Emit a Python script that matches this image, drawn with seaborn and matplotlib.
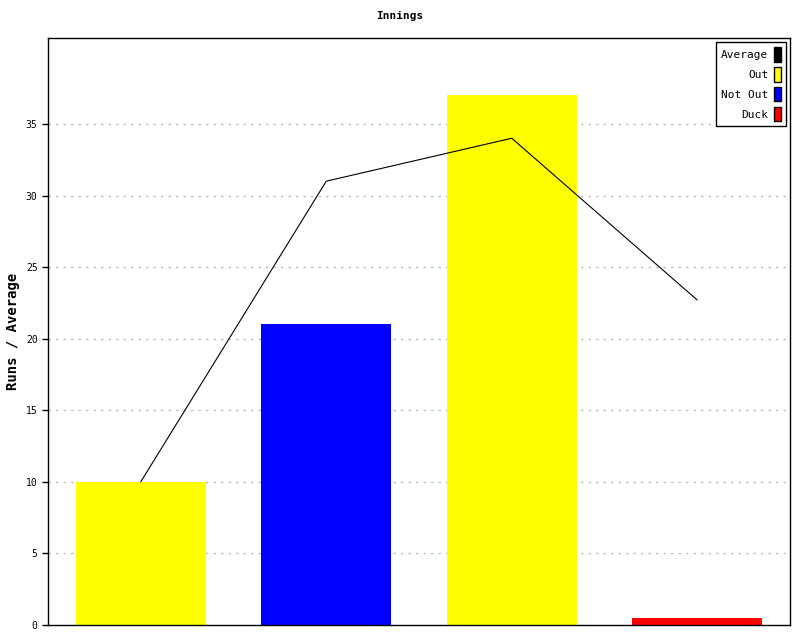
import matplotlib
matplotlib.use("Agg")
import matplotlib.pyplot as plt
from matplotlib.patches import Patch
import seaborn as sns
import pandas as pd

innings = ["1", "2", "3", "4"]
runs = [10, 21, 37, 0.5]
status = ["Out", "Not Out", "Out", "Duck"]
average = [10, 31, 34, 22.7]

colors = {"Out": "#ffff00", "Not Out": "#0000ff", "Duck": "#ff0000"}

df = pd.DataFrame({"inning": innings, "runs": runs, "status": status, "average": average})

sns.set_style("white")
plt.rcParams["font.family"] = ["DejaVu Sans Mono"]
plt.rcParams["text.color"] = "black"
plt.rcParams["axes.labelcolor"] = "black"
plt.rcParams["ytick.color"] = "black"

fig = plt.figure(figsize=(8, 6.4), dpi=100)
ax = fig.add_axes([0.06, 0.0234, 0.9275, 0.9172])

sns.barplot(data=df, x="inning", y="runs", hue="status", palette=colors,
            dodge=False, width=0.7, saturation=1, legend=False,
            linewidth=0, ax=ax)
sns.lineplot(data=df, x="inning", y="average", color="black", linewidth=0.8,
             sort=False, ax=ax)

ax.set_ylim(0, 41)
ax.set_xlim(-0.5, 3.5)
ax.set_yticks(range(0, 40, 5))
ax.set_xticks([])
ax.set_xlabel("")
ax.set_ylabel("Runs / Average", fontsize=10, fontweight="bold")
ax.tick_params(axis="y", labelsize=7, length=4, width=1, direction="out", left=True)
ax.yaxis.grid(True, linestyle=(0, (2, 4)), color="#bbbbbb", linewidth=0.9)
ax.set_axisbelow(True)
for s in ax.spines.values():
    s.set_color("black")
    s.set_linewidth(1)

fig.suptitle("Innings", y=0.983, fontsize=8, fontweight="bold")

handles = [Patch(facecolor="black", edgecolor="black", label="Average"),
           Patch(facecolor=colors["Out"], edgecolor="black", label="Out"),
           Patch(facecolor=colors["Not Out"], edgecolor="black", label="Not Out"),
           Patch(facecolor=colors["Duck"], edgecolor="black", label="Duck")]
leg = ax.legend(handles=handles, loc="upper right", markerfirst=False, fontsize=8,
                frameon=True, fancybox=False, edgecolor="black", framealpha=1,
                handlelength=0.6, handleheight=1.6, handletextpad=0.5,
                labelspacing=0.5, borderaxespad=0.4, borderpad=0.45)
leg.get_frame().set_linewidth(1)

fig.savefig("out.png", dpi=100)
